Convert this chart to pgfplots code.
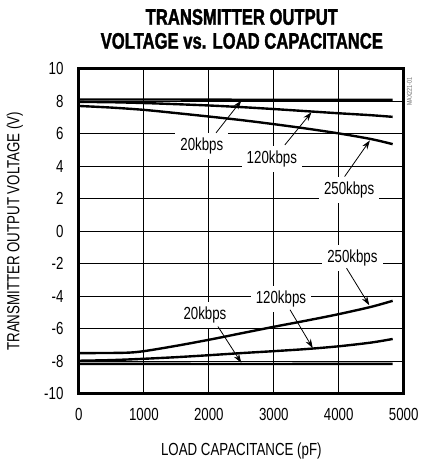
\documentclass[border=0pt]{standalone}
\usepackage{pgfplots}
\pgfplotsset{compat=1.18}
\usetikzlibrary{arrows.meta}
\usepackage{fontspec}
\setmainfont[FakeStretch=0.76]{Liberation Sans}
\newfontfamily\titlefont[FakeStretch=0.74,BoldFeatures={FakeBold=1.5}]{Liberation Sans}
\begin{document}
\begin{tikzpicture}
\begin{axis}[
  at={(79bp,68bp)}, anchor=south west,
  width=325bp, height=325bp, scale only axis,
  xmin=0, xmax=5000, ymin=-10, ymax=10,
  xtick={0,1000,2000,3000,4000,5000}, ytick={-10,-8,-6,-4,-2,0,2,4,6,8,10},
  xmajorgrids=true, ymajorgrids=true,
  grid style={black, line width=1bp},
  major tick length=0pt,
  /pgf/number format/assume math mode=true,
  /pgf/number format/1000 sep={},
  scaled x ticks=false,
  tick label style={font=\fontsize{17.5bp}{19bp}\selectfont},
  label style={font=\fontsize{17.5bp}{19bp}\selectfont},
  xticklabel style={anchor=north, yshift=-11bp},
  yticklabel style={anchor=east, xshift=-12bp},
  xlabel={LOAD CAPACITANCE (pF)},
  ylabel={TRANSMITTER OUTPUT VOLTAGE (V)},
  xlabel style={at={(axis description cs:0.5,-0.175)}, anchor=center},
  ylabel style={at={(axis description cs:-0.197,0.5)}, anchor=center},
  curve/.style={line width=2.4pt, black, mark=none, smooth},
  clip=false,
]
% top: 20kbps
\addplot[curve] coordinates {(0,8.12)(1000,8.12)(2000,8.11)(3000,8.1)(4000,8.1)(4830,8.1)};
% top: 120kbps
\addplot[curve] coordinates {(0,7.97)(500,7.95)(1000,7.9)(1500,7.83)(2000,7.75)(2500,7.65)(3000,7.53)(3500,7.4)(4000,7.27)(4500,7.15)(4830,7.05)};
% top: 250kbps
\addplot[curve] coordinates {(0,7.72)(500,7.62)(1000,7.48)(1500,7.28)(2000,7.07)(2500,6.85)(3000,6.6)(3500,6.33)(4000,6.03)(4500,5.68)(4830,5.37)};
% bottom: 20kbps
\addplot[curve] coordinates {(0,-8.16)(1000,-8.16)(2000,-8.17)(3000,-8.17)(4000,-8.16)(4830,-8.16)};
% bottom: 120kbps
\addplot[curve] coordinates {(0,-7.97)(500,-7.93)(1000,-7.85)(1500,-7.75)(2000,-7.63)(2500,-7.5)(3000,-7.38)(3500,-7.25)(4000,-7.08)(4500,-6.85)(4830,-6.63)};
% bottom: 250kbps
\addplot[curve] coordinates {(0,-7.5)(700,-7.48)(1000,-7.38)(1500,-7.05)(2000,-6.68)(2500,-6.28)(3000,-5.88)(3500,-5.5)(4000,-5.1)(4500,-4.65)(4830,-4.28)};

\draw[black, line width=1bp] (axis cs:1000,-10) -- (axis cs:1000,10);
\draw[black, line width=1bp] (axis cs:2000,-10) -- (axis cs:2000,10);
\draw[black, line width=1bp] (axis cs:3000,-10) -- (axis cs:3000,10);
\draw[black, line width=1bp] (axis cs:4000,-10) -- (axis cs:4000,10);
\draw[black, line width=1bp] (axis cs:0,-8) -- (axis cs:5000,-8);
\draw[black, line width=1bp] (axis cs:0,-6) -- (axis cs:5000,-6);
\draw[black, line width=1bp] (axis cs:0,-4) -- (axis cs:5000,-4);
\draw[black, line width=1bp] (axis cs:0,-2) -- (axis cs:5000,-2);
\draw[black, line width=1bp] (axis cs:0,0) -- (axis cs:5000,0);
\draw[black, line width=1bp] (axis cs:0,2) -- (axis cs:5000,2);
\draw[black, line width=1bp] (axis cs:0,4) -- (axis cs:5000,4);
\draw[black, line width=1bp] (axis cs:0,6) -- (axis cs:5000,6);
\draw[black, line width=1bp] (axis cs:0,8) -- (axis cs:5000,8);

\draw[line width=3pt] (rel axis cs:0,0) rectangle (rel axis cs:1,1);

\node[fill=white, inner sep=5bp, font=\fontsize{17.5bp}{19bp}\selectfont] at (axis cs:1892,5.26) {20kbps};
\node[fill=white, inner sep=5bp, font=\fontsize{17.5bp}{19bp}\selectfont] at (axis cs:2970,4.44) {120kbps};
\node[fill=white, inner sep=5bp, font=\fontsize{17.5bp}{19bp}\selectfont] at (axis cs:4160,2.55) {250kbps};
\node[fill=white, inner sep=5bp, font=\fontsize{17.5bp}{19bp}\selectfont] at (axis cs:4210,-1.65) {250kbps};
\node[fill=white, inner sep=5bp, font=\fontsize{17.5bp}{19bp}\selectfont] at (axis cs:3110,-4.15) {120kbps};
\node[fill=white, inner sep=5bp, font=\fontsize{17.5bp}{19bp}\selectfont] at (axis cs:1940,-5.14) {20kbps};

\draw[line width=0.8pt, -{Stealth[length=9bp,width=6bp]}] (axis cs:2110,6.06) -- (axis cs:2500,8.05);
\draw[line width=0.8pt, -{Stealth[length=9bp,width=6bp]}] (axis cs:3170,5.32) -- (axis cs:3580,7.33);
\draw[line width=0.8pt, -{Stealth[length=9bp,width=6bp]}] (axis cs:4090,3.37) -- (axis cs:4480,5.6);
\draw[line width=0.8pt, -{Stealth[length=9bp,width=6bp]}] (axis cs:4120,-2.27) -- (axis cs:4470,-4.55);
\draw[line width=0.8pt, -{Stealth[length=9bp,width=6bp]}] (axis cs:3250,-4.83) -- (axis cs:3600,-7.19);
\draw[line width=0.8pt, -{Stealth[length=9bp,width=6bp]}] (axis cs:2140,-5.86) -- (axis cs:2500,-8.1);

\node[rotate=90, font=\fontsize{7bp}{8bp}\selectfont, text=black!60] at (rel axis cs:1.018,0.93) {MAX221-01};
\end{axis}
\node[align=center, font=\titlefont\bfseries\fontsize{22.5bp}{24bp}\selectfont] at (242bp,433bp) {TRANSMITTER OUTPUT\\VOLTAGE vs. LOAD CAPACITANCE};
\path[use as bounding box] (0bp,0bp) rectangle (421bp,462bp);
\end{tikzpicture}
\end{document}
